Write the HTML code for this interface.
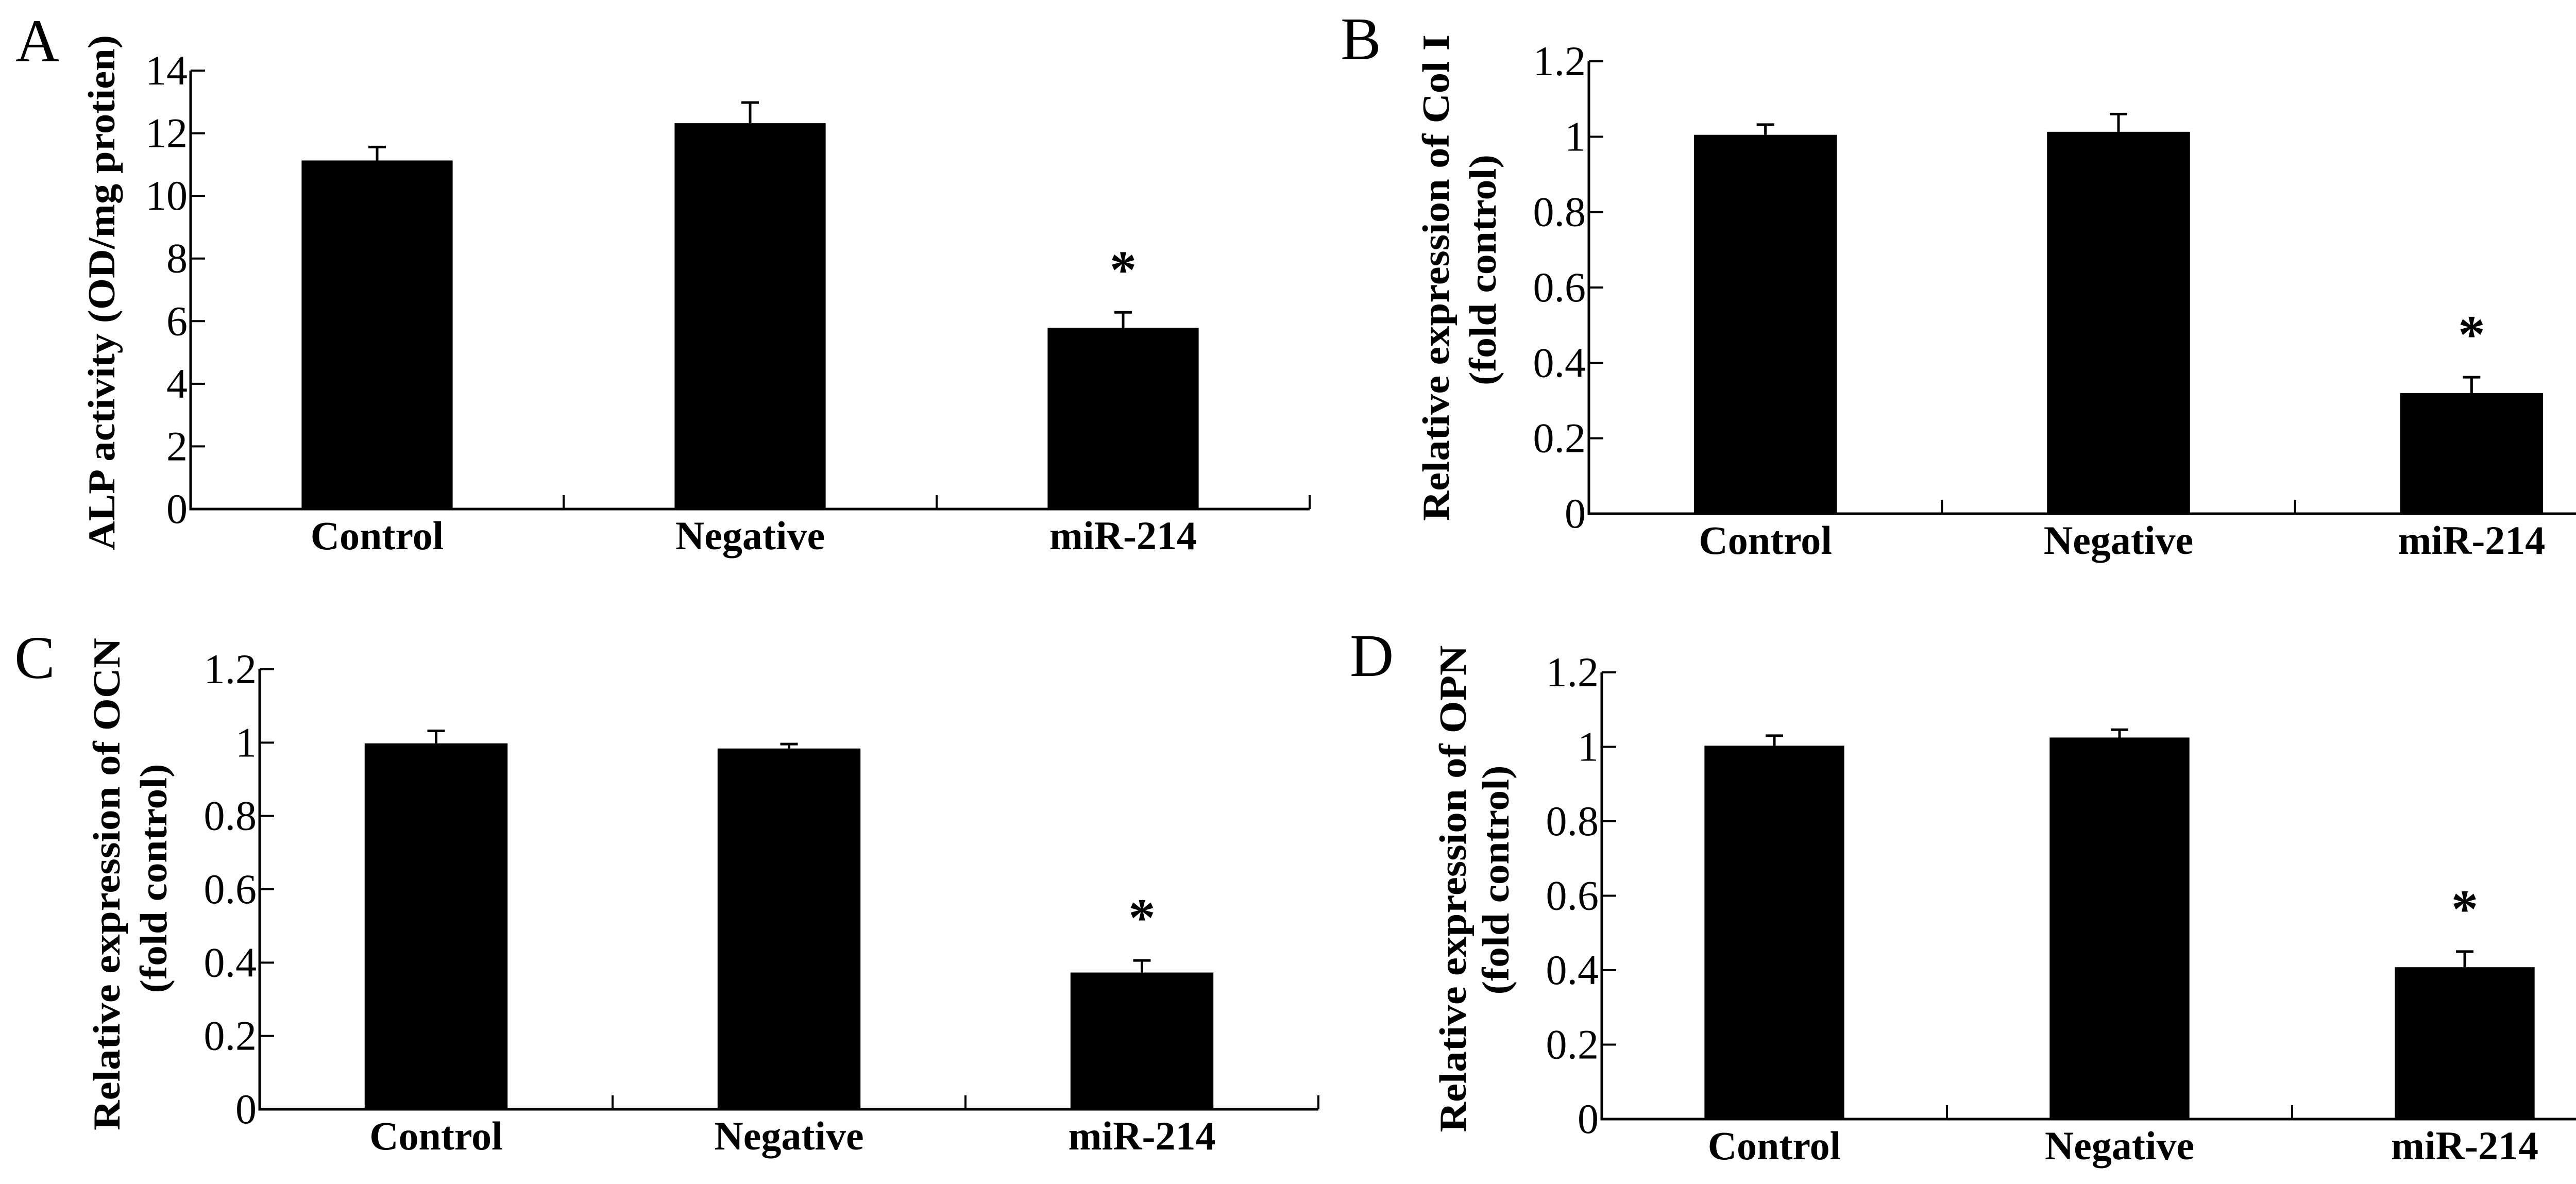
<!DOCTYPE html>
<html><head><meta charset="utf-8"><style>
html,body{margin:0;padding:0;background:#fff;}
svg{display:block;}
text{font-family:"Liberation Serif",serif;fill:#000;}
</style></head><body>
<svg id="fig" width="5160" height="2298" viewBox="0 0 5160 2298" xmlns="http://www.w3.org/2000/svg"></svg>
<script>
const categories = ["Control", "Negative", "miR-214"];
const valuesA = [11.13, 12.32, 5.79];
const errorsA = [0.43, 0.66, 0.49];
const ticksA = [0, 2, 4, 6, 8, 10, 12, 14];
const tickLabelsA = ["0", "2", "4", "6", "8", "10", "12", "14"];
const valuesB = [1.005, 1.013, 0.32];
const errorsB = [0.027, 0.047, 0.042];
const valuesC = [0.998, 0.984, 0.373];
const errorsC = [0.034, 0.012, 0.033];
const valuesD = [1.003, 1.025, 0.408];
const errorsD = [0.027, 0.021, 0.042];
const ticksRel = [0, 0.2, 0.4, 0.6, 0.8, 1.0, 1.2];
const tickLabelsRel = ["0", "0.2", "0.4", "0.6", "0.8", "1", "1.2"];
const significant = [false, false, true];

const NS = "http://www.w3.org/2000/svg";
const svg = document.getElementById("fig");
function mk(tag, attrs, parent) {
  const e = document.createElementNS(NS, tag);
  for (const k in attrs) e.setAttribute(k, attrs[k]);
  (parent || svg).appendChild(e);
  return e;
}

function drawPanel(p) {
  const g = mk("g", {});
  
  
  const yMax = p.ticks[p.ticks.length - 1];
  const yScale = v => p.y0 - (v / yMax) * (p.y0 - p.yTop);
  const gw = (p.x1 - p.x0) / categories.length;
  const xCenter = i => p.x0 + gw * (i + 0.5);
  const bw = gw * 0.405;

  // panel letter
  const L = mk("text", {x: p.lx, y: p.ly, "font-size": 118}, g);
  L.textContent = p.id;
  
  

  // bars
  p.values.forEach((v, i) => {
    const top = yScale(v);
    const r = mk("rect", {x: xCenter(i) - bw / 2, y: top, width: bw, height: p.y0 - top, fill: "#000"}, g);
    
    
    const et = yScale(v + p.errors[i]);
    const el = mk("path", {d: `M${xCenter(i)},${top} V${et} M${xCenter(i)-17},${et} H${xCenter(i)+17}`, stroke: "#000", "stroke-width": 5, fill: "none"}, g);
    
    
    if (significant[i]) {
      const s = mk("text", {x: xCenter(i), y: et - 48, "font-size": 105, "font-weight": "bold", "text-anchor": "middle"}, g);
      s.textContent = "*";
      
      
    }
    const c = mk("text", {x: xCenter(i), y: p.y0 + 78, "font-size": 78, "font-weight": "bold", "text-anchor": "middle"}, g);
    c.textContent = categories[i];
    
    
  });

  // axes
  const ax = mk("path", {d: `M${p.x0},${p.yTop} V${p.y0} H${p.x1}`, stroke: "#000", "stroke-width": 5, fill: "none"}, g);
  
  
  for (let i = 1; i <= categories.length; i++) {
    const xt = p.x0 + gw * i;
    const t = mk("line", {x1: xt, x2: xt, y1: p.y0, y2: p.y0 - 27, stroke: "#000", "stroke-width": 4}, g);
    
    
  }
  p.ticks.forEach((tv, i) => {
    const yy = yScale(tv);
    const t = mk("line", {x1: p.x0, x2: p.x0 + 28, y1: yy, y2: yy, stroke: "#000", "stroke-width": 4}, g);
    
    
    const lb = mk("text", {x: p.x0 - 6, y: yy + 27, "font-size": 82, "text-anchor": "end"}, g);
    lb.textContent = p.tickLabels[i];
    
    
  });

  // y titles
  p.titles.forEach((tt, k) => {
    const tx = mk("text", {x: 0, y: 0, "font-size": 74, "font-weight": "bold", "text-anchor": "middle",
      textLength: tt.len, lengthAdjust: "spacingAndGlyphs",
      transform: `translate(${tt.x},${tt.cy}) rotate(-90)`}, g);
    tx.textContent = tt.text;
    
    
  });
}

drawPanel({id: "A", values: valuesA, errors: errorsA, ticks: ticksA, tickLabels: tickLabelsA,
  x0: 370, x1: 2542, yTop: 137, y0: 988, lx: 30, ly: 119,
  titles: [{text: "ALP activity (OD/mg protien)", x: 222, cy: 568, len: 1000}]});
drawPanel({id: "B", values: valuesB, errors: errorsB, ticks: ticksRel, tickLabels: tickLabelsRel,
  x0: 3084, x1: 5140, yTop: 119, y0: 997, lx: 2602, ly: 115,
  titles: [{text: "Relative expression of Col I", x: 2812, cy: 539, len: 944},
           {text: "(fold control)", x: 2903, cy: 524, len: 448}]});
drawPanel({id: "C", values: valuesC, errors: errorsC, ticks: ticksRel, tickLabels: tickLabelsRel,
  x0: 504, x1: 2559, yTop: 1299, y0: 2153, lx: 28, ly: 1316,
  titles: [{text: "Relative expression of OCN", x: 232, cy: 1716, len: 956},
           {text: "(fold control)", x: 323, cy: 1705, len: 445}]});
drawPanel({id: "D", values: valuesD, errors: errorsD, ticks: ticksRel, tickLabels: tickLabelsRel,
  x0: 3109, x1: 5119, yTop: 1305, y0: 2172, lx: 2620, ly: 1312,
  titles: [{text: "Relative expression of OPN", x: 2845, cy: 1725, len: 945},
           {text: "(fold control)", x: 2928, cy: 1708, len: 445}]});
</script>
</body></html>
